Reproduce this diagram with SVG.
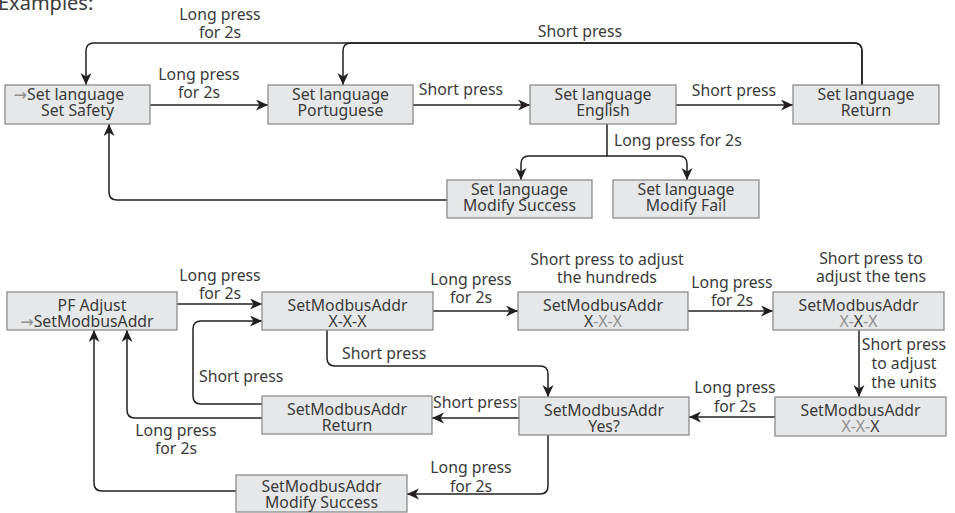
<svg xmlns="http://www.w3.org/2000/svg" width="955" height="513" viewBox="0 0 955 513">
<defs>
<marker id="ah" markerUnits="userSpaceOnUse" markerWidth="13" markerHeight="12" refX="12" refY="5.5" orient="auto" viewBox="0 0 13 12">
<path d="M0,0 L12,5.5 L0,11 L3.5,5.5 Z" fill="#231f20"/>
</marker>
<style>
.n rect{fill:#e6e7e8;stroke:#8c8c8c;stroke-width:1.3}
text{font-family:"Noto Sans","Open Sans","DejaVu Sans",sans-serif;font-size:15.8px;fill:#3a3a3a}
.c{text-anchor:middle}
.g{fill:#8f8f8f}
#connectors path{fill:none;stroke:#231f20;stroke-width:1.5}
.a{marker-end:url(#ah)}
</style>
</defs>
<rect width="955" height="513" fill="#ffffff"/>
<text x="-2" y="10" style="font-size:20px">Examples:</text>

<g id="connectors">
<path class="a" d="M150,105 H268"/>
<path class="a" d="M413,105 H530"/>
<path class="a" d="M676,105 H793"/>
<path class="a" d="M862,85 V51 Q862,43 854,43 H351 Q343,43 343,51 V85"/>
<path class="a" d="M862,85 V51 Q862,43 854,43 H94 Q86,43 86,51 V85"/>
<path class="a" d="M607,124 V156 H529 Q521,156 521,164 V180"/>
<path class="a" d="M607,156 H679 Q687,156 687,164 V180"/>
<path class="a" d="M447,200 H117 Q109,200 109,192 V124"/>

<path class="a" d="M177,304 H262"/>
<path class="a" d="M433,311 H518"/>
<path class="a" d="M688,311 H773"/>
<path class="a" d="M859,330 V397"/>
<path class="a" d="M775,417 H689"/>
<path class="a" d="M327,330 V358 Q327,366 335,366 H540 Q548,366 548,374 V397"/>
<path class="a" d="M519,418 H432"/>
<path class="a" d="M262,404 H201 Q193,404 193,396 V329 Q193,321 201,321 H262"/>
<path class="a" d="M262,418 H135 Q127,418 127,410 V330"/>
<path class="a" d="M548,435 V486 Q548,494 540,494 H407"/>
<path class="a" d="M236,491 H102 Q94,491 94,483 V330"/>
</g>

<g id="labels">
<text class="c" x="220" y="20">Long press<tspan x="220" dy="18">for 2s</tspan></text>
<text class="c" x="199" y="80">Long press<tspan x="199" dy="18">for 2s</tspan></text>
<text class="c" x="461" y="95">Short press</text>
<text class="c" x="734" y="96">Short press</text>
<text class="c" x="580" y="37">Short press</text>
<text x="614" y="146">Long press for 2s</text>

<text class="c" x="220" y="281">Long press<tspan x="220" dy="18">for 2s</tspan></text>
<text class="c" x="471" y="285">Long press<tspan x="471" dy="18">for 2s</tspan></text>
<text class="c" x="732" y="288">Long press<tspan x="732" dy="18">for 2s</tspan></text>
<text class="c" x="607" y="265">Short press to adjust<tspan x="607" dy="18">the hundreds</tspan></text>
<text class="c" x="871" y="264">Short press to<tspan x="871" dy="18">adjust the tens</tspan></text>
<text class="c" x="904" y="350">Short press<tspan x="904" dy="19">to adjust</tspan><tspan x="904" dy="19">the units</tspan></text>
<text class="c" x="735" y="393">Long press<tspan x="735" dy="19">for 2s</tspan></text>
<text x="342" y="359">Short press</text>
<text x="433" y="408">Short press</text>
<text x="199" y="382">Short press</text>
<text class="c" x="176" y="436">Long press<tspan x="176" dy="18">for 2s</tspan></text>
<text class="c" x="471" y="473">Long press<tspan x="471" dy="19">for 2s</tspan></text>
</g>

<g id="n-safety" class="n"><rect x="5" y="85" width="145" height="39"/>
<text class="c" x="69" y="100"><tspan class="g">→</tspan>Set language<tspan x="77.5" dy="16">Set Safety</tspan></text></g>
<g id="n-portuguese" class="n"><rect x="268" y="85" width="145" height="39"/>
<text class="c" x="340.5" y="100">Set language<tspan x="340.5" dy="16">Portuguese</tspan></text></g>
<g id="n-english" class="n"><rect x="530" y="85" width="146" height="39"/>
<text class="c" x="603" y="100">Set language<tspan x="603" dy="16">English</tspan></text></g>
<g id="n-return" class="n"><rect x="793" y="85" width="146" height="39"/>
<text class="c" x="866" y="100">Set language<tspan x="866" dy="16">Return</tspan></text></g>
<g id="n-success" class="n"><rect x="447" y="180" width="145" height="38"/>
<text class="c" x="519.5" y="195">Set language<tspan x="519.5" dy="16">Modify Success</tspan></text></g>
<g id="n-fail" class="n"><rect x="613" y="180" width="146" height="38"/>
<text class="c" x="686" y="195">Set language<tspan x="686" dy="16">Modify Fail</tspan></text></g>

<g id="n-pf" class="n"><rect x="7" y="292" width="170" height="38"/>
<text class="c" x="92" y="311">PF Adjust<tspan x="87" dy="16"><tspan class="g">→</tspan>SetModbusAddr</tspan></text></g>
<g id="n-xxx" class="n"><rect x="262" y="292" width="171" height="38"/>
<text class="c" x="347.5" y="311">SetModbusAddr<tspan x="347.5" dy="16">X-X-X</tspan></text></g>
<g id="n-hundreds" class="n"><rect x="518" y="292" width="170" height="38"/>
<text class="c" x="603" y="311">SetModbusAddr<tspan x="603" dy="16">X<tspan class="g">-X-X</tspan></tspan></text></g>
<g id="n-tens" class="n"><rect x="773" y="292" width="171" height="38"/>
<text class="c" x="858.5" y="311">SetModbusAddr<tspan x="858.5" dy="16"><tspan class="g">X-</tspan>X<tspan class="g">-X</tspan></tspan></text></g>
<g id="n-units" class="n"><rect x="775" y="397" width="171" height="39"/>
<text class="c" x="860.5" y="416">SetModbusAddr<tspan x="860.5" dy="16"><tspan class="g">X-X-</tspan>X</tspan></text></g>
<g id="n-yes" class="n"><rect x="519" y="397" width="170" height="38"/>
<text class="c" x="604" y="416">SetModbusAddr<tspan x="604" dy="16">Yes?</tspan></text></g>
<g id="n-mreturn" class="n"><rect x="262" y="396" width="170" height="38"/>
<text class="c" x="347" y="415">SetModbusAddr<tspan x="347" dy="16">Return</tspan></text></g>
<g id="n-msuccess" class="n"><rect x="236" y="475" width="171" height="37"/>
<text class="c" x="321.5" y="492">SetModbusAddr<tspan x="321.5" dy="16">Modify Success</tspan></text></g>
</svg>
